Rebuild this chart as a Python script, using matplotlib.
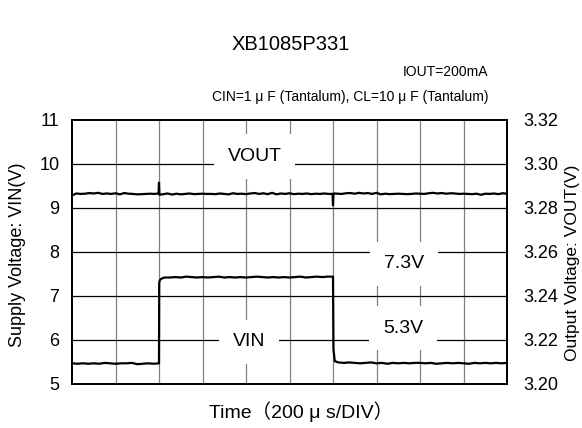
import numpy as np
import matplotlib
matplotlib.use("Agg")
import matplotlib.pyplot as plt

plt.rcParams['font.family'] = ['Liberation Sans', 'Noto Sans CJK JP', 'DejaVu Sans']

# time base: 200 us/div, 10 divisions
time_div_us = 200
n_div = 10

# VIN trace (left axis), time in us
vin_time = ([0, 25, 50, 75, 100, 125, 150, 175, 200, 225, 250, 275, 300, 325, 350, 375, 400]
            + [401, 404, 410]
            + list(range(425, 1201, 25))
            + [1202, 1208]
            + list(range(1225, 2001, 25)))
vin_volts = ([5.47, 5.46, 5.47, 5.46, 5.47, 5.46, 5.48, 5.47, 5.46, 5.47, 5.47, 5.48, 5.45, 5.46, 5.47, 5.46, 5.47]
             + [7.30, 7.36, 7.39]
             + [7.42, 7.42, 7.43, 7.42, 7.44, 7.43, 7.42, 7.43, 7.42, 7.43, 7.44, 7.42, 7.43, 7.42, 7.43, 7.42,
                7.43, 7.44, 7.43, 7.42, 7.43, 7.42, 7.43, 7.42, 7.43, 7.44, 7.42, 7.43, 7.44, 7.43, 7.44, 7.44]
             + [5.80, 5.52]
             + [5.49, 5.48, 5.49, 5.48, 5.47, 5.48, 5.49, 5.47, 5.48, 5.46, 5.48, 5.47, 5.48, 5.47, 5.48, 5.48,
                5.47, 5.48, 5.46, 5.47, 5.48, 5.47, 5.48, 5.47, 5.46, 5.48, 5.47, 5.48, 5.47, 5.48, 5.47, 5.48])

# VOUT trace (right axis), time in us
vout_time = (list(range(0, 400, 20)) + [398, 400, 402]
             + list(range(420, 1200, 20)) + [1198, 1200, 1202]
             + list(range(1220, 2001, 20)))
vout_volts = ([3.2857, 3.2866, 3.2864, 3.2865, 3.2868, 3.2866, 3.2869, 3.2864, 3.2866, 3.2864,
               3.2867, 3.2862, 3.2868, 3.2865, 3.2864, 3.2862, 3.2863, 3.2864, 3.2865, 3.2864]
              + [3.2866, 3.2915, 3.2860]
              + [3.2863, 3.2866, 3.2861, 3.2865, 3.2862, 3.2864, 3.2866, 3.2863, 3.2864, 3.2865,
                 3.2864, 3.2864, 3.2863, 3.2866, 3.2864, 3.2862, 3.2867, 3.2864, 3.2865, 3.2863,
                 3.2866, 3.2868, 3.2864, 3.2867, 3.2863, 3.2869, 3.2862, 3.2866, 3.2864, 3.2867,
                 3.2863, 3.2865, 3.2864, 3.2866, 3.2863, 3.2865, 3.2864, 3.2866, 3.2864]
              + [3.2864, 3.2812, 3.2866]
              + [3.2865, 3.2864, 3.2867, 3.2868, 3.2865, 3.2869, 3.2866, 3.2868, 3.2864, 3.2869,
                 3.2862, 3.2865, 3.2863, 3.2864, 3.2865, 3.2864, 3.2863, 3.2864, 3.2866, 3.2865,
                 3.2864, 3.2867, 3.2869, 3.2866, 3.2868, 3.2865, 3.2867, 3.2866, 3.2864, 3.2865,
                 3.2864, 3.2863, 3.2865, 3.2860, 3.2865, 3.2864, 3.2866, 3.2863, 3.2867, 3.2865])

vin_ticks = [5, 6, 7, 8, 9, 10, 11]
vout_ticks = [3.20, 3.22, 3.24, 3.26, 3.28, 3.30, 3.32]

fig = plt.figure(figsize=(5.82, 4.28), dpi=100)
ax = fig.add_axes([72 / 582, 1 - 384 / 428, 435 / 582, 264 / 428])

# grid: gray verticals, black horizontals
for k in range(1, n_div):
    ax.axvline(k * time_div_us, color='#808080', lw=0.9, zorder=1)
for v in vin_ticks[1:-1]:
    ax.axhline(v, color='black', lw=0.9, zorder=1)

ax.plot(vin_time, vin_volts, color='black', lw=1.6, zorder=3)
ax.set_xlim(0, n_div * time_div_us)
ax.set_ylim(5, 11)
ax.set_xticks([])
ax.set_yticks(vin_ticks)
ax.tick_params(axis='y', length=0, pad=9, labelsize=13)
for s in ax.spines.values():
    s.set_linewidth(1.3)
fig.text(18 / 582, 1 - 255 / 428, 'Supply Voltage: VIN(V)', rotation=90,
         ha='center', va='center', fontsize=13)

ax2 = ax.twinx()
ax2.plot(vout_time, vout_volts, color='black', lw=1.6, zorder=3)
ax2.set_ylim(3.20, 3.32)
ax2.set_yticks(vout_ticks)
ax2.set_yticklabels([f'{t:.2f}' for t in vout_ticks])
ax2.tick_params(axis='y', length=0, pad=12, labelsize=13)
for s in ax2.spines.values():
    s.set_linewidth(1.3)
fig.text(573 / 582, 1 - 263 / 428, 'Output Voltage: VOUT(V)', rotation=90,
         ha='center', va='center', fontsize=12.5)

box = dict(boxstyle='square,pad=0.7', fc='white', ec='none')
ax.text(840, 10.17, 'VOUT', ha='center', va='center', fontsize=14, bbox=box, zorder=2)
ax.text(814, 5.96, 'VIN', ha='center', va='center', fontsize=14, bbox=box, zorder=2)
ax.text(1526, 7.73, '7.3V', ha='center', va='center', fontsize=14, bbox=box, zorder=2)
ax.text(1522, 6.27, '5.3V', ha='center', va='center', fontsize=14, bbox=box, zorder=2)

fig.text(291 / 582, 1 - 45 / 428, 'XB1085P331', ha='center', va='center', fontsize=14.5)
fig.text(488 / 582, 1 - 72 / 428, 'IOUT=200mA', ha='right', va='center', fontsize=10)
fig.text(488 / 582, 1 - 97 / 428, 'CIN=1 μ F (Tantalum), CL=10 μ F (Tantalum)',
         ha='right', va='center', fontsize=10)
fig.text(301 / 582, 1 - 412 / 428, 'Time（200 μ s/DIV）', ha='center', va='center', fontsize=14)

fig.savefig('out.png', dpi=100)
